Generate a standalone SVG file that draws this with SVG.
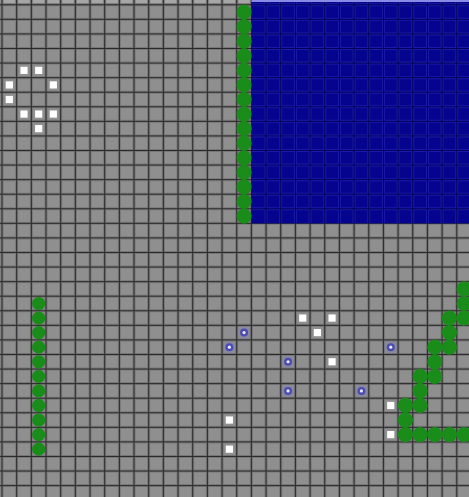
<svg xmlns="http://www.w3.org/2000/svg" xmlns:xlink="http://www.w3.org/1999/xlink" width="469" height="497" viewBox="0 0 469 497">
<defs>
<style>
.band{stroke:#777;stroke-width:3;fill:none}
.line{stroke:#2a2a2a;stroke-width:1;fill:none}
.bband{stroke:#1a1aa6;stroke-width:3;fill:none}
.bline{stroke:#00005c;stroke-width:1;fill:none}
.g{fill:#1a8c1a}
.w{fill:#ffffff}
</style>
<circle id="gd" r="7.6" class="g"/>
<circle id="gs" r="6.6" class="g"/>
<rect id="ws" x="-3.6" y="-3.6" width="7.2" height="7.2" class="w"/>
<g id="bd">
<circle r="6.5" fill="#7a7ac4" opacity="0.35"/>
<circle r="4" fill="#4c4cae"/>
<circle r="1.6" fill="#e8e8ff"/>
</g>
</defs>
<rect x="0" y="0" width="469" height="497" fill="#8f8f8f"/>
<rect x="0" y="0" width="469" height="3" fill="#a6a6a6"/>
<g id="grid">
<path class="band" d="M2 0V497M16.67 0V497M31.34 0V497M46.01 0V497M60.68 0V497M75.35 0V497M90.02 0V497M104.69 0V497M119.36 0V497M134.03 0V497M148.7 0V497M163.37 0V497M178.04 0V497M192.71 0V497M207.38 0V497M222.05 0V497M236.72 0V497M251.39 0V497M266.06 0V497M280.73 0V497M295.4 0V497M310.07 0V497M324.74 0V497M339.41 0V497M354.08 0V497M368.75 0V497M383.42 0V497M398.09 0V497M412.76 0V497M427.43 0V497M442.1 0V497M456.77 0V497M0 4.8H469M0 19.37H469M0 33.94H469M0 48.51H469M0 63.08H469M0 77.65H469M0 92.22H469M0 106.79H469M0 121.36H469M0 135.93H469M0 150.5H469M0 165.07H469M0 179.64H469M0 194.21H469M0 208.78H469M0 223.35H469M0 237.92H469M0 252.49H469M0 267.06H469M0 281.63H469M0 296.2H469M0 310.77H469M0 325.34H469M0 339.91H469M0 354.48H469M0 369.05H469M0 383.62H469M0 398.19H469M0 412.76H469M0 427.33H469M0 441.9H469M0 456.47H469M0 471.04H469M0 485.61H469"/>
<path class="line" d="M2 0V497M16.67 0V497M31.34 0V497M46.01 0V497M60.68 0V497M75.35 0V497M90.02 0V497M104.69 0V497M119.36 0V497M134.03 0V497M148.7 0V497M163.37 0V497M178.04 0V497M192.71 0V497M207.38 0V497M222.05 0V497M236.72 0V497M251.39 0V497M266.06 0V497M280.73 0V497M295.4 0V497M310.07 0V497M324.74 0V497M339.41 0V497M354.08 0V497M368.75 0V497M383.42 0V497M398.09 0V497M412.76 0V497M427.43 0V497M442.1 0V497M456.77 0V497M0 4.8H469M0 19.37H469M0 33.94H469M0 48.51H469M0 63.08H469M0 77.65H469M0 92.22H469M0 106.79H469M0 121.36H469M0 135.93H469M0 150.5H469M0 165.07H469M0 179.64H469M0 194.21H469M0 208.78H469M0 223.35H469M0 237.92H469M0 252.49H469M0 267.06H469M0 281.63H469M0 296.2H469M0 310.77H469M0 325.34H469M0 339.91H469M0 354.48H469M0 369.05H469M0 383.62H469M0 398.19H469M0 412.76H469M0 427.33H469M0 441.9H469M0 456.47H469M0 471.04H469M0 485.61H469"/>
</g>
<g id="water">
<rect x="251.39" y="0" width="217.61" height="223.35" fill="#04048f"/>
<path class="bband" d="M266.06 0V223.35M280.73 0V223.35M295.4 0V223.35M310.07 0V223.35M324.74 0V223.35M339.41 0V223.35M354.08 0V223.35M368.75 0V223.35M383.42 0V223.35M398.09 0V223.35M412.76 0V223.35M427.43 0V223.35M442.1 0V223.35M456.77 0V223.35M251.39 4.8H469M251.39 19.37H469M251.39 33.94H469M251.39 48.51H469M251.39 63.08H469M251.39 77.65H469M251.39 92.22H469M251.39 106.79H469M251.39 121.36H469M251.39 135.93H469M251.39 150.5H469M251.39 165.07H469M251.39 179.64H469M251.39 194.21H469M251.39 208.78H469"/>
<path class="bline" d="M266.06 0V223.35M280.73 0V223.35M295.4 0V223.35M310.07 0V223.35M324.74 0V223.35M339.41 0V223.35M354.08 0V223.35M368.75 0V223.35M383.42 0V223.35M398.09 0V223.35M412.76 0V223.35M427.43 0V223.35M442.1 0V223.35M456.77 0V223.35M251.39 4.8H469M251.39 19.37H469M251.39 33.94H469M251.39 48.51H469M251.39 63.08H469M251.39 77.65H469M251.39 92.22H469M251.39 106.79H469M251.39 121.36H469M251.39 135.93H469M251.39 150.5H469M251.39 165.07H469M251.39 179.64H469M251.39 194.21H469M251.39 208.78H469"/>
<rect x="251.39" y="0" width="217.61" height="2" fill="#8a8ae6"/>
</g>
<g id="green-wall-top">
<use xlink:href="#gd" x="244.05" y="12.08"/><use xlink:href="#gd" x="244.05" y="26.65"/><use xlink:href="#gd" x="244.05" y="41.22"/><use xlink:href="#gd" x="244.05" y="55.79"/><use xlink:href="#gd" x="244.05" y="70.36"/><use xlink:href="#gd" x="244.05" y="84.93"/><use xlink:href="#gd" x="244.05" y="99.5"/><use xlink:href="#gd" x="244.05" y="114.07"/><use xlink:href="#gd" x="244.05" y="128.64"/><use xlink:href="#gd" x="244.05" y="143.21"/><use xlink:href="#gd" x="244.05" y="157.78"/><use xlink:href="#gd" x="244.05" y="172.35"/><use xlink:href="#gd" x="244.05" y="186.92"/><use xlink:href="#gd" x="244.05" y="201.49"/><use xlink:href="#gd" x="244.05" y="216.06"/>
</g>
<g id="green-wall-left">
<use xlink:href="#gs" x="38.67" y="303.48"/><use xlink:href="#gs" x="38.67" y="318.05"/><use xlink:href="#gs" x="38.67" y="332.62"/><use xlink:href="#gs" x="38.67" y="347.19"/><use xlink:href="#gs" x="38.67" y="361.76"/><use xlink:href="#gs" x="38.67" y="376.33"/><use xlink:href="#gs" x="38.67" y="390.9"/><use xlink:href="#gs" x="38.67" y="405.47"/><use xlink:href="#gs" x="38.67" y="420.04"/><use xlink:href="#gs" x="38.67" y="434.61"/><use xlink:href="#gs" x="38.67" y="449.18"/>
</g>
<g id="green-stair">
<use xlink:href="#gd" x="464.1" y="288.91"/><use xlink:href="#gd" x="464.1" y="303.48"/><use xlink:href="#gd" x="464.1" y="318.05"/>
<use xlink:href="#gd" x="449.43" y="318.05"/><use xlink:href="#gd" x="449.43" y="332.62"/><use xlink:href="#gd" x="449.43" y="347.19"/>
<use xlink:href="#gd" x="434.76" y="347.19"/><use xlink:href="#gd" x="434.76" y="361.76"/><use xlink:href="#gd" x="434.76" y="376.33"/>
<use xlink:href="#gd" x="420.09" y="376.33"/><use xlink:href="#gd" x="420.09" y="390.9"/><use xlink:href="#gd" x="420.09" y="405.47"/>
<use xlink:href="#gd" x="405.42" y="405.47"/><use xlink:href="#gd" x="405.42" y="420.04"/><use xlink:href="#gd" x="405.42" y="434.61"/>
<use xlink:href="#gd" x="420.09" y="434.61"/><use xlink:href="#gd" x="434.76" y="434.61"/><use xlink:href="#gd" x="449.43" y="434.61"/><use xlink:href="#gd" x="464.1" y="434.61"/>
</g>
<g id="white-squares">
<use xlink:href="#ws" x="24" y="70.36"/><use xlink:href="#ws" x="38.67" y="70.36"/><use xlink:href="#ws" x="9.33" y="84.93"/><use xlink:href="#ws" x="53.34" y="84.93"/><use xlink:href="#ws" x="9.33" y="99.5"/><use xlink:href="#ws" x="24" y="114.07"/><use xlink:href="#ws" x="38.67" y="114.07"/><use xlink:href="#ws" x="53.34" y="114.07"/><use xlink:href="#ws" x="38.67" y="128.64"/>
<use xlink:href="#ws" x="302.73" y="318.05"/><use xlink:href="#ws" x="332.07" y="318.05"/><use xlink:href="#ws" x="317.4" y="332.62"/><use xlink:href="#ws" x="332.07" y="361.76"/>
<use xlink:href="#ws" x="229.38" y="420.04"/><use xlink:href="#ws" x="229.38" y="449.18"/>
<use xlink:href="#ws" x="390.75" y="405.47"/><use xlink:href="#ws" x="390.75" y="434.61"/>
</g>
<g id="blue-dots">
<use xlink:href="#bd" x="244.05" y="332.62"/><use xlink:href="#bd" x="229.38" y="347.19"/><use xlink:href="#bd" x="288.06" y="361.76"/><use xlink:href="#bd" x="288.06" y="390.9"/><use xlink:href="#bd" x="361.41" y="390.9"/><use xlink:href="#bd" x="390.75" y="347.19"/>
</g>
</svg>
